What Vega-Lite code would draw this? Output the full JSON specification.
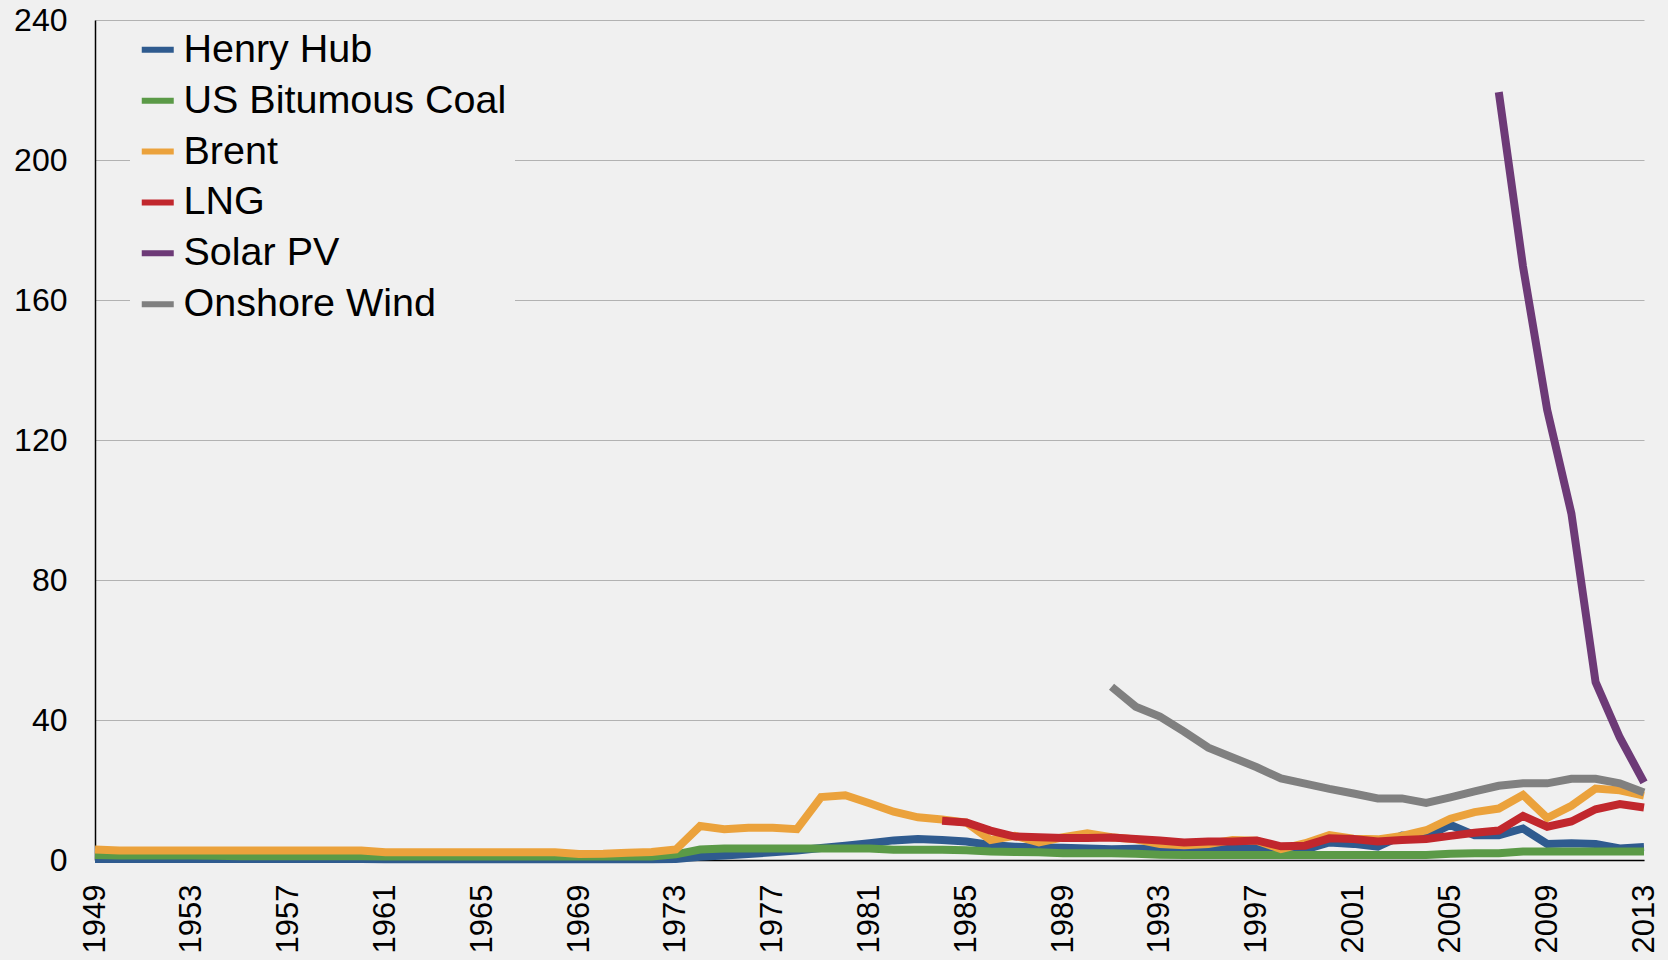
{
  "$schema": "https://vega.github.io/schema/vega-lite/v6.json",
  "width": 1549,
  "height": 840,
  "autosize": {"type": "none"},
  "padding": {"left": 95, "top": 20, "right": 24, "bottom": 100},
  "background": "#f0f0f0",
  "config": {
    "view": {"stroke": null},
    "font": "Liberation Sans"
  },
  "data": {
    "values": [
      {"year":1949,"series":"Henry Hub","value":0.3},{"year":1950,"series":"Henry Hub","value":0.3},{"year":1951,"series":"Henry Hub","value":0.3},{"year":1952,"series":"Henry Hub","value":0.3},{"year":1953,"series":"Henry Hub","value":0.3},{"year":1954,"series":"Henry Hub","value":0.3},{"year":1955,"series":"Henry Hub","value":0.3},{"year":1956,"series":"Henry Hub","value":0.3},{"year":1957,"series":"Henry Hub","value":0.3},{"year":1958,"series":"Henry Hub","value":0.3},{"year":1959,"series":"Henry Hub","value":0.3},{"year":1960,"series":"Henry Hub","value":0.3},{"year":1961,"series":"Henry Hub","value":0.2},{"year":1962,"series":"Henry Hub","value":0.2},{"year":1963,"series":"Henry Hub","value":0.2},{"year":1964,"series":"Henry Hub","value":0.2},{"year":1965,"series":"Henry Hub","value":0.2},{"year":1966,"series":"Henry Hub","value":0.2},{"year":1967,"series":"Henry Hub","value":0.2},{"year":1968,"series":"Henry Hub","value":0.2},{"year":1969,"series":"Henry Hub","value":0.2},{"year":1970,"series":"Henry Hub","value":0.2},{"year":1971,"series":"Henry Hub","value":0.2},{"year":1972,"series":"Henry Hub","value":0.2},{"year":1973,"series":"Henry Hub","value":0.3},{"year":1974,"series":"Henry Hub","value":0.9},{"year":1975,"series":"Henry Hub","value":1.3},{"year":1976,"series":"Henry Hub","value":1.7},{"year":1977,"series":"Henry Hub","value":2.2},{"year":1978,"series":"Henry Hub","value":2.7},{"year":1979,"series":"Henry Hub","value":3.4},{"year":1980,"series":"Henry Hub","value":4.1},{"year":1981,"series":"Henry Hub","value":4.8},{"year":1982,"series":"Henry Hub","value":5.6},{"year":1983,"series":"Henry Hub","value":6.0},{"year":1984,"series":"Henry Hub","value":5.7},{"year":1985,"series":"Henry Hub","value":5.3},{"year":1986,"series":"Henry Hub","value":4.3},{"year":1987,"series":"Henry Hub","value":3.8},{"year":1988,"series":"Henry Hub","value":3.6},{"year":1989,"series":"Henry Hub","value":3.5},{"year":1990,"series":"Henry Hub","value":3.3},{"year":1991,"series":"Henry Hub","value":3.1},{"year":1992,"series":"Henry Hub","value":3.2},{"year":1993,"series":"Henry Hub","value":3.3},{"year":1994,"series":"Henry Hub","value":2.9},{"year":1995,"series":"Henry Hub","value":2.9},{"year":1996,"series":"Henry Hub","value":3.7},{"year":1997,"series":"Henry Hub","value":3.7},{"year":1998,"series":"Henry Hub","value":2.9},{"year":1999,"series":"Henry Hub","value":3.0},{"year":2000,"series":"Henry Hub","value":5.0},{"year":2001,"series":"Henry Hub","value":4.6},{"year":2002,"series":"Henry Hub","value":3.8},{"year":2003,"series":"Henry Hub","value":7.0},{"year":2004,"series":"Henry Hub","value":6.7},{"year":2005,"series":"Henry Hub","value":10.0},{"year":2006,"series":"Henry Hub","value":7.1},{"year":2007,"series":"Henry Hub","value":7.1},{"year":2008,"series":"Henry Hub","value":9.0},{"year":2009,"series":"Henry Hub","value":4.6},{"year":2010,"series":"Henry Hub","value":4.8},{"year":2011,"series":"Henry Hub","value":4.6},{"year":2012,"series":"Henry Hub","value":3.3},{"year":2013,"series":"Henry Hub","value":3.7},

      {"year":1949,"series":"US Bitumous Coal","value":1.4},{"year":1950,"series":"US Bitumous Coal","value":1.3},{"year":1951,"series":"US Bitumous Coal","value":1.3},{"year":1952,"series":"US Bitumous Coal","value":1.3},{"year":1953,"series":"US Bitumous Coal","value":1.3},{"year":1954,"series":"US Bitumous Coal","value":1.2},{"year":1955,"series":"US Bitumous Coal","value":1.1},{"year":1956,"series":"US Bitumous Coal","value":1.1},{"year":1957,"series":"US Bitumous Coal","value":1.1},{"year":1958,"series":"US Bitumous Coal","value":1.1},{"year":1959,"series":"US Bitumous Coal","value":1.1},{"year":1960,"series":"US Bitumous Coal","value":1.1},{"year":1961,"series":"US Bitumous Coal","value":1.0},{"year":1962,"series":"US Bitumous Coal","value":1.0},{"year":1963,"series":"US Bitumous Coal","value":1.0},{"year":1964,"series":"US Bitumous Coal","value":1.0},{"year":1965,"series":"US Bitumous Coal","value":1.0},{"year":1966,"series":"US Bitumous Coal","value":1.0},{"year":1967,"series":"US Bitumous Coal","value":1.0},{"year":1968,"series":"US Bitumous Coal","value":1.0},{"year":1969,"series":"US Bitumous Coal","value":1.0},{"year":1970,"series":"US Bitumous Coal","value":1.0},{"year":1971,"series":"US Bitumous Coal","value":1.0},{"year":1972,"series":"US Bitumous Coal","value":1.0},{"year":1973,"series":"US Bitumous Coal","value":1.6},{"year":1974,"series":"US Bitumous Coal","value":3.0},{"year":1975,"series":"US Bitumous Coal","value":3.3},{"year":1976,"series":"US Bitumous Coal","value":3.3},{"year":1977,"series":"US Bitumous Coal","value":3.3},{"year":1978,"series":"US Bitumous Coal","value":3.3},{"year":1979,"series":"US Bitumous Coal","value":3.3},{"year":1980,"series":"US Bitumous Coal","value":3.3},{"year":1981,"series":"US Bitumous Coal","value":3.3},{"year":1982,"series":"US Bitumous Coal","value":2.9},{"year":1983,"series":"US Bitumous Coal","value":2.9},{"year":1984,"series":"US Bitumous Coal","value":2.9},{"year":1985,"series":"US Bitumous Coal","value":2.8},{"year":1986,"series":"US Bitumous Coal","value":2.4},{"year":1987,"series":"US Bitumous Coal","value":2.3},{"year":1988,"series":"US Bitumous Coal","value":2.2},{"year":1989,"series":"US Bitumous Coal","value":1.9},{"year":1990,"series":"US Bitumous Coal","value":1.9},{"year":1991,"series":"US Bitumous Coal","value":1.9},{"year":1992,"series":"US Bitumous Coal","value":1.8},{"year":1993,"series":"US Bitumous Coal","value":1.5},{"year":1994,"series":"US Bitumous Coal","value":1.4},{"year":1995,"series":"US Bitumous Coal","value":1.4},{"year":1996,"series":"US Bitumous Coal","value":1.4},{"year":1997,"series":"US Bitumous Coal","value":1.4},{"year":1998,"series":"US Bitumous Coal","value":1.4},{"year":1999,"series":"US Bitumous Coal","value":1.4},{"year":2000,"series":"US Bitumous Coal","value":1.4},{"year":2001,"series":"US Bitumous Coal","value":1.4},{"year":2002,"series":"US Bitumous Coal","value":1.4},{"year":2003,"series":"US Bitumous Coal","value":1.4},{"year":2004,"series":"US Bitumous Coal","value":1.4},{"year":2005,"series":"US Bitumous Coal","value":1.8},{"year":2006,"series":"US Bitumous Coal","value":1.9},{"year":2007,"series":"US Bitumous Coal","value":1.9},{"year":2008,"series":"US Bitumous Coal","value":2.4},{"year":2009,"series":"US Bitumous Coal","value":2.4},{"year":2010,"series":"US Bitumous Coal","value":2.4},{"year":2011,"series":"US Bitumous Coal","value":2.4},{"year":2012,"series":"US Bitumous Coal","value":2.4},{"year":2013,"series":"US Bitumous Coal","value":2.4},

      {"year":1949,"series":"Brent","value":3.0},{"year":1950,"series":"Brent","value":2.7},{"year":1951,"series":"Brent","value":2.7},{"year":1952,"series":"Brent","value":2.7},{"year":1953,"series":"Brent","value":2.7},{"year":1954,"series":"Brent","value":2.7},{"year":1955,"series":"Brent","value":2.7},{"year":1956,"series":"Brent","value":2.7},{"year":1957,"series":"Brent","value":2.7},{"year":1958,"series":"Brent","value":2.7},{"year":1959,"series":"Brent","value":2.7},{"year":1960,"series":"Brent","value":2.7},{"year":1961,"series":"Brent","value":2.2},{"year":1962,"series":"Brent","value":2.2},{"year":1963,"series":"Brent","value":2.2},{"year":1964,"series":"Brent","value":2.2},{"year":1965,"series":"Brent","value":2.2},{"year":1966,"series":"Brent","value":2.2},{"year":1967,"series":"Brent","value":2.2},{"year":1968,"series":"Brent","value":2.2},{"year":1969,"series":"Brent","value":1.7},{"year":1970,"series":"Brent","value":1.8},{"year":1971,"series":"Brent","value":2.1},{"year":1972,"series":"Brent","value":2.3},{"year":1973,"series":"Brent","value":3.0},{"year":1974,"series":"Brent","value":9.7},{"year":1975,"series":"Brent","value":8.8},{"year":1976,"series":"Brent","value":9.2},{"year":1977,"series":"Brent","value":9.2},{"year":1978,"series":"Brent","value":8.8},{"year":1979,"series":"Brent","value":18.0},{"year":1980,"series":"Brent","value":18.5},{"year":1981,"series":"Brent","value":16.2},{"year":1982,"series":"Brent","value":13.8},{"year":1983,"series":"Brent","value":12.2},{"year":1984,"series":"Brent","value":11.6},{"year":1985,"series":"Brent","value":10.7},{"year":1986,"series":"Brent","value":5.7},{"year":1987,"series":"Brent","value":6.9},{"year":1988,"series":"Brent","value":5.0},{"year":1989,"series":"Brent","value":6.5},{"year":1990,"series":"Brent","value":7.6},{"year":1991,"series":"Brent","value":6.5},{"year":1992,"series":"Brent","value":5.9},{"year":1993,"series":"Brent","value":4.6},{"year":1994,"series":"Brent","value":4.2},{"year":1995,"series":"Brent","value":4.6},{"year":1996,"series":"Brent","value":5.7},{"year":1997,"series":"Brent","value":5.5},{"year":1998,"series":"Brent","value":3.1},{"year":1999,"series":"Brent","value":4.8},{"year":2000,"series":"Brent","value":7.1},{"year":2001,"series":"Brent","value":6.1},{"year":2002,"series":"Brent","value":5.9},{"year":2003,"series":"Brent","value":6.9},{"year":2004,"series":"Brent","value":8.5},{"year":2005,"series":"Brent","value":11.8},{"year":2006,"series":"Brent","value":13.7},{"year":2007,"series":"Brent","value":14.7},{"year":2008,"series":"Brent","value":18.6},{"year":2009,"series":"Brent","value":12.0},{"year":2010,"series":"Brent","value":15.5},{"year":2011,"series":"Brent","value":20.4},{"year":2012,"series":"Brent","value":19.9},{"year":2013,"series":"Brent","value":18.4},

      {"year":1984,"series":"LNG","value":11.2},{"year":1985,"series":"LNG","value":10.7},{"year":1986,"series":"LNG","value":8.4},{"year":1987,"series":"LNG","value":6.7},{"year":1988,"series":"LNG","value":6.5},{"year":1989,"series":"LNG","value":6.3},{"year":1990,"series":"LNG","value":6.3},{"year":1991,"series":"LNG","value":6.4},{"year":1992,"series":"LNG","value":6.0},{"year":1993,"series":"LNG","value":5.6},{"year":1994,"series":"LNG","value":5.0},{"year":1995,"series":"LNG","value":5.3},{"year":1996,"series":"LNG","value":5.3},{"year":1997,"series":"LNG","value":5.6},{"year":1998,"series":"LNG","value":3.9},{"year":1999,"series":"LNG","value":4.1},{"year":2000,"series":"LNG","value":6.2},{"year":2001,"series":"LNG","value":6.0},{"year":2002,"series":"LNG","value":5.3},{"year":2003,"series":"LNG","value":5.7},{"year":2004,"series":"LNG","value":6.0},{"year":2005,"series":"LNG","value":6.9},{"year":2006,"series":"LNG","value":7.8},{"year":2007,"series":"LNG","value":8.4},{"year":2008,"series":"LNG","value":12.6},{"year":2009,"series":"LNG","value":9.5},{"year":2010,"series":"LNG","value":11.0},{"year":2011,"series":"LNG","value":14.5},{"year":2012,"series":"LNG","value":16.0},{"year":2013,"series":"LNG","value":15.0},

      {"year":2007,"series":"Solar PV","value":219.4},{"year":2008,"series":"Solar PV","value":169.6},{"year":2009,"series":"Solar PV","value":128.6},{"year":2010,"series":"Solar PV","value":99.0},{"year":2011,"series":"Solar PV","value":50.8},{"year":2012,"series":"Solar PV","value":35.0},{"year":2013,"series":"Solar PV","value":22.2},

      {"year":1991,"series":"Onshore Wind","value":49.5},{"year":1992,"series":"Onshore Wind","value":43.8},{"year":1993,"series":"Onshore Wind","value":41.0},{"year":1994,"series":"Onshore Wind","value":36.7},{"year":1995,"series":"Onshore Wind","value":32.1},{"year":1996,"series":"Onshore Wind","value":29.3},{"year":1997,"series":"Onshore Wind","value":26.5},{"year":1998,"series":"Onshore Wind","value":23.3},{"year":1999,"series":"Onshore Wind","value":21.8},{"year":2000,"series":"Onshore Wind","value":20.3},{"year":2001,"series":"Onshore Wind","value":19.0},{"year":2002,"series":"Onshore Wind","value":17.6},{"year":2003,"series":"Onshore Wind","value":17.6},{"year":2004,"series":"Onshore Wind","value":16.3},{"year":2005,"series":"Onshore Wind","value":17.9},{"year":2006,"series":"Onshore Wind","value":19.6},{"year":2007,"series":"Onshore Wind","value":21.2},{"year":2008,"series":"Onshore Wind","value":21.9},{"year":2009,"series":"Onshore Wind","value":21.9},{"year":2010,"series":"Onshore Wind","value":23.2},{"year":2011,"series":"Onshore Wind","value":23.2},{"year":2012,"series":"Onshore Wind","value":21.9},{"year":2013,"series":"Onshore Wind","value":19.3}
    ]
  },
  "mark": {"type": "line", "strokeWidth": 8, "strokeCap": "butt", "strokeJoin": "miter"},
  "encoding": {
    "x": {
      "field": "year",
      "type": "quantitative",
      "scale": {"domain": [1949, 2013], "nice": false, "zero": false},
      "axis": {
        "title": null,
        "values": [1949,1953,1957,1961,1965,1969,1973,1977,1981,1985,1989,1993,1997,2001,2005,2009,2013],
        "format": "d",
        "labelAngle": -90,
        "labelFontSize": 31,
        "labelColor": "#000000",
        "labelPadding": 24,
        "labelFlush": false,
        "labelBound": false,
        "labelOverlap": false,
        "ticks": false,
        "grid": false,
        "domainColor": "#000000",
        "domainWidth": 1.5
      }
    },
    "y": {
      "field": "value",
      "type": "quantitative",
      "scale": {"domain": [0, 240], "nice": false},
      "axis": {
        "title": null,
        "values": [0, 40, 80, 120, 160, 200, 240],
        "labelFontSize": 32,
        "labelColor": "#000000",
        "labelPadding": 28,
        "ticks": false,
        "grid": true,
        "gridColor": "#b2b2b2",
        "gridWidth": 1.2,
        "domainColor": "#000000",
        "domainWidth": 1.5
      }
    },
    "color": {
      "field": "series",
      "type": "nominal",
      "scale": {
        "domain": ["Henry Hub", "US Bitumous Coal", "Brent", "LNG", "Solar PV", "Onshore Wind"],
        "range": ["#2f5b8f", "#5b9a47", "#eba23c", "#c1272d", "#6d3a77", "#808080"]
      },
      "legend": {
        "title": null,
        "orient": "none",
        "legendX": 35,
        "legendY": 2,
        "padding": 8,
        "fillColor": "#f0f0f0",
        "symbolType": "stroke",
        "symbolSize": 1024,
        "symbolStrokeWidth": 6,
        "labelFontSize": 39.5,
        "labelColor": "#000000",
        "labelOffset": 6,
        "rowPadding": 9.9,
        "labelLimit": 600
      }
    }
  }
}
